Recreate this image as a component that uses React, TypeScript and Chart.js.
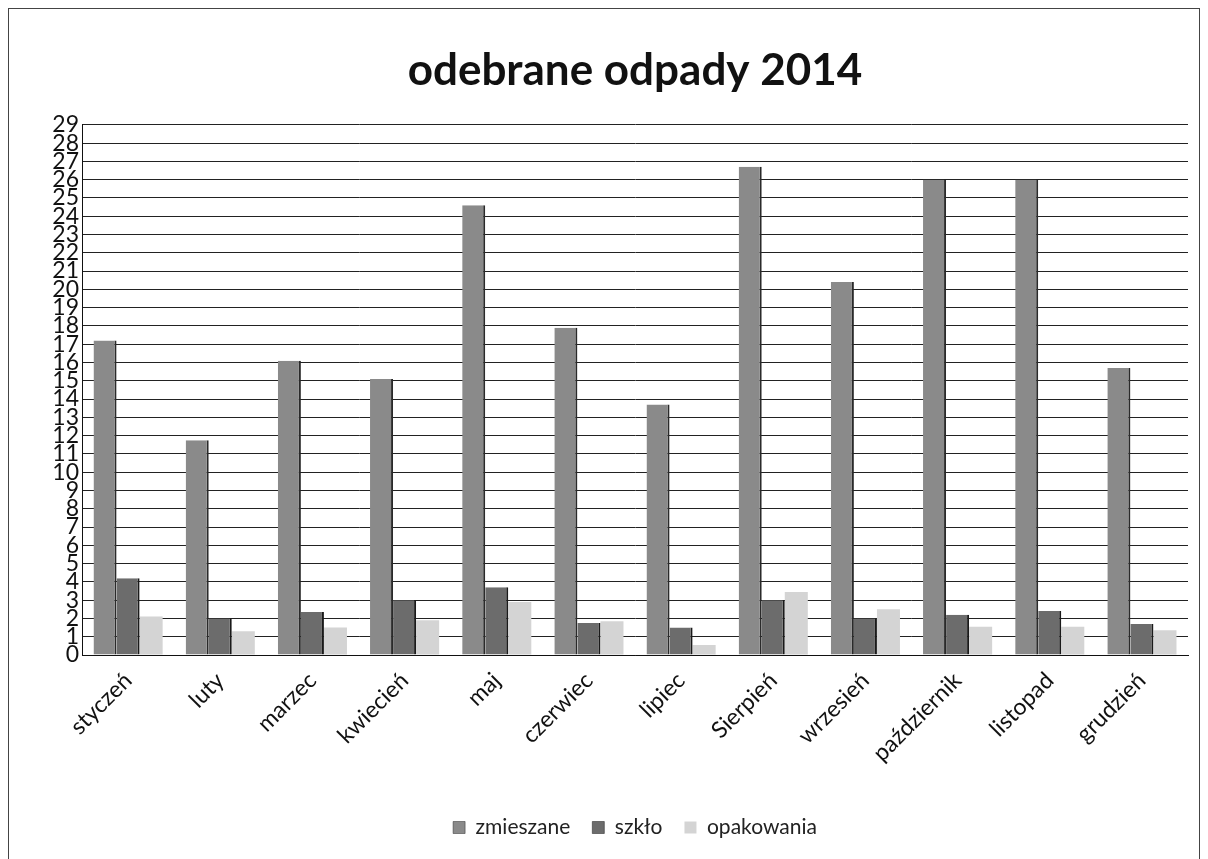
import React, { useEffect, useRef } from "react";
import { Chart, registerables } from "chart.js";

Chart.register(...registerables);

const titleText = "odebrane odpady 2014";
const months = [
  "styczeń", "luty", "marzec", "kwiecień", "maj", "czerwiec",
  "lipiec", "Sierpień", "wrzesień", "październik", "listopad", "grudzień",
];
const zmieszane = [17.2, 11.75, 16.1, 15.1, 24.6, 17.9, 13.7, 26.7, 20.4, 26.0, 26.0, 15.7];
const szklo = [4.2, 2.0, 2.35, 3.0, 3.7, 1.75, 1.5, 3.0, 2.0, 2.2, 2.4, 1.7];
const opakowania = [2.1, 1.3, 1.5, 1.9, 2.9, 1.85, 0.55, 3.45, 2.5, 1.55, 1.55, 1.35];
const seriesNames = ["zmieszane", "szkło", "opakowania"];
const yMin = 0;
const yMax = 29;
const yStep = 1;

const FONT = "Lato, 'Open Sans', sans-serif";

export default function App() {
  const ref = useRef<HTMLCanvasElement | null>(null);

  useEffect(() => {
    if (!ref.current) return;
    const chart = new Chart(ref.current, {
      type: "bar",
      data: {
        labels: months,
        datasets: [
          {
            label: seriesNames[0],
            data: zmieszane,
            backgroundColor: "#8a8a8a",
            borderColor: "#2a2a2a",
            borderWidth: { top: 0, left: 0, bottom: 0, right: 2 },
            borderSkipped: false,
          },
          {
            label: seriesNames[1],
            data: szklo,
            backgroundColor: "#6c6c6c",
            borderColor: "#1a1a1a",
            borderWidth: { top: 0, left: 0, bottom: 0, right: 2 },
            borderSkipped: false,
          },
          {
            label: seriesNames[2],
            data: opakowania,
            backgroundColor: "#d4d4d4",
            borderWidth: 0,
          },
        ],
      },
      options: {
        responsive: false,
        animation: false,
        layout: { padding: { left: 0, right: 11, top: 0, bottom: 11 } },
        datasets: {
          bar: { categoryPercentage: 0.75, barPercentage: 1.0 },
        },
        plugins: {
          title: {
            display: true,
            fullSize: false,
            text: titleText,
            color: "#111",
            font: { family: FONT, size: 44, weight: "bold", lineHeight: 1.2 },
            padding: { top: 35, bottom: 28 },
          },
          legend: {
            position: "bottom",
            fullSize: false,
            labels: {
              boxWidth: 12,
              boxHeight: 12,
              padding: 22,
              color: "#222",
              font: { family: FONT, size: 21 },
            },
          },
          tooltip: { enabled: false },
        },
        scales: {
          x: {
            grid: { display: false },
            border: { display: true, color: "#111", width: 1 },
            ticks: {
              color: "#111",
              font: { family: FONT, size: 23 },
              minRotation: 45,
              maxRotation: 45,
              autoSkip: false,
              padding: 4,
            },
            afterFit: (scale: any) => {
              scale.height = 140;
            },
          },
          y: {
            min: yMin,
            max: yMax,
            grid: { color: "#222", lineWidth: 1, drawTicks: false },
            border: { display: true, color: "#111", width: 1 },
            ticks: {
              stepSize: yStep,
              autoSkip: false,
              color: "#111",
              padding: 3,
              font: { family: FONT, size: 23, lineHeight: 1 },
            },
            afterFit: (scale: any) => {
              scale.width = 73;
            },
          },
        },
      },
    });
    return () => chart.destroy();
  }, []);

  return (
    <div
      style={{
        width: 1190,
        height: 851,
        borderLeft: "1px solid #444",
        borderTop: "1px solid #444",
        borderRight: "1px solid #444",
        background: "#fff",
      }}
    >
      <canvas ref={ref} width={1190} height={850} style={{ display: "block" }} />
    </div>
  );
}
